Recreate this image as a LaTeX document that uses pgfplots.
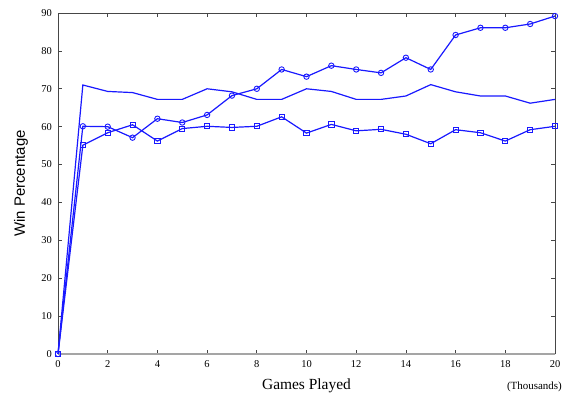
\documentclass[border=0pt]{standalone}
\usepackage{pgfplots}
\pgfplotsset{compat=1.18}
\usepackage{fontspec}
\setmainfont{Liberation Serif}
\newfontfamily\arialfont{Liberation Sans}
\definecolor{lineblue}{RGB}{25,25,255}
\definecolor{axgray}{RGB}{70,70,70}
\definecolor{basegray}{RGB}{165,165,165}
\pgfplotsset{
  commonax/.style={
    at={(0,0)}, anchor=south west,
    scale only axis,
    width=497bp, height=341bp,
    xmin=0, xmax=20, ymin=0, ymax=90,
    xtick={0,2,...,20}, ytick={0,10,...,90},
    tick align=inside,
    major tick length=4bp,
    every tick/.style={draw=axgray, line width=0.7bp},
    clip=false,
  }
}
\begin{document}
\begin{tikzpicture}
% top and right frame with inward ticks
\begin{axis}[
  commonax,
  axis x line*=top, axis y line*=right,
  axis line style={-, draw=axgray, line width=0.8bp},
  xticklabels={}, yticklabels={},
]
\end{axis}
\begin{axis}[
  commonax,
  axis x line*=bottom, axis y line*=left,
  x axis line style={-, draw=basegray, line width=2.2bp},
  y axis line style={-, draw=axgray, line width=0.8bp},
  /pgf/number format/assume math mode=true,
  tick label style={font=\fontsize{10.5}{10.5}\selectfont},
  yticklabel style={inner sep=0pt, xshift=-6bp},
  xticklabel style={inner sep=0pt, yshift=-6bp},
  xlabel={Games Played},
  xlabel style={at={(axis description cs:0.5,0)}, anchor=base, yshift=-35bp, inner sep=0pt, font=\fontsize{15.5}{15.5}\selectfont},
  ylabel={Win Percentage},
  ylabel style={at={(axis description cs:-0.0745,0.5)}, anchor=center, inner sep=0pt, font=\arialfont\fontsize{15}{15}\selectfont},
  every axis plot/.append style={line width=1.2bp},
]
% plain line
\addplot[lineblue, no markers] coordinates {
(0,0) (1,71) (2,69.3) (3,69) (4,67.2) (5,67.2) (6,70) (7,69.2) (8,67.2) (9,67.2) (10,70)
(11,69.3) (12,67.2) (13,67.2) (14,68.1) (15,71.1) (16,69.2) (17,68.1) (18,68.1) (19,66.2) (20,67.2)};
% squares
\addplot[lineblue, mark=square, mark size=2.6bp, mark options={line width=0.9bp, solid}] coordinates {
(0,0) (1,55.1) (2,58.4) (3,60.5) (4,56.2) (5,59.5) (6,60.1) (7,59.8) (8,60.1) (9,62.6) (10,58.3)
(11,60.6) (12,58.9) (13,59.3) (14,58) (15,55.5) (16,59.2) (17,58.4) (18,56.2) (19,59.2) (20,60.1)};
% circles
\addplot[lineblue, mark=o, mark size=2.7bp, mark options={line width=0.9bp, solid}] coordinates {
(0,0) (1,60.1) (2,60) (3,57.1) (4,62.1) (5,61.1) (6,63.1) (7,68.2) (8,70) (9,75.1) (10,73.2)
(11,76.1) (12,75.1) (13,74.2) (14,78.2) (15,75.1) (16,84.2) (17,86.1) (18,86.1) (19,87.1) (20,89.2)};
\node[at={(axis description cs:1,0)}, anchor=base east, xshift=7bp, yshift=-35bp, inner sep=0pt, font=\fontsize{11}{11}\selectfont] {(Thousands)};
\end{axis}
\path[use as bounding box] (-58bp,-39bp) rectangle (507bp,354bp);
\end{tikzpicture}
\end{document}
